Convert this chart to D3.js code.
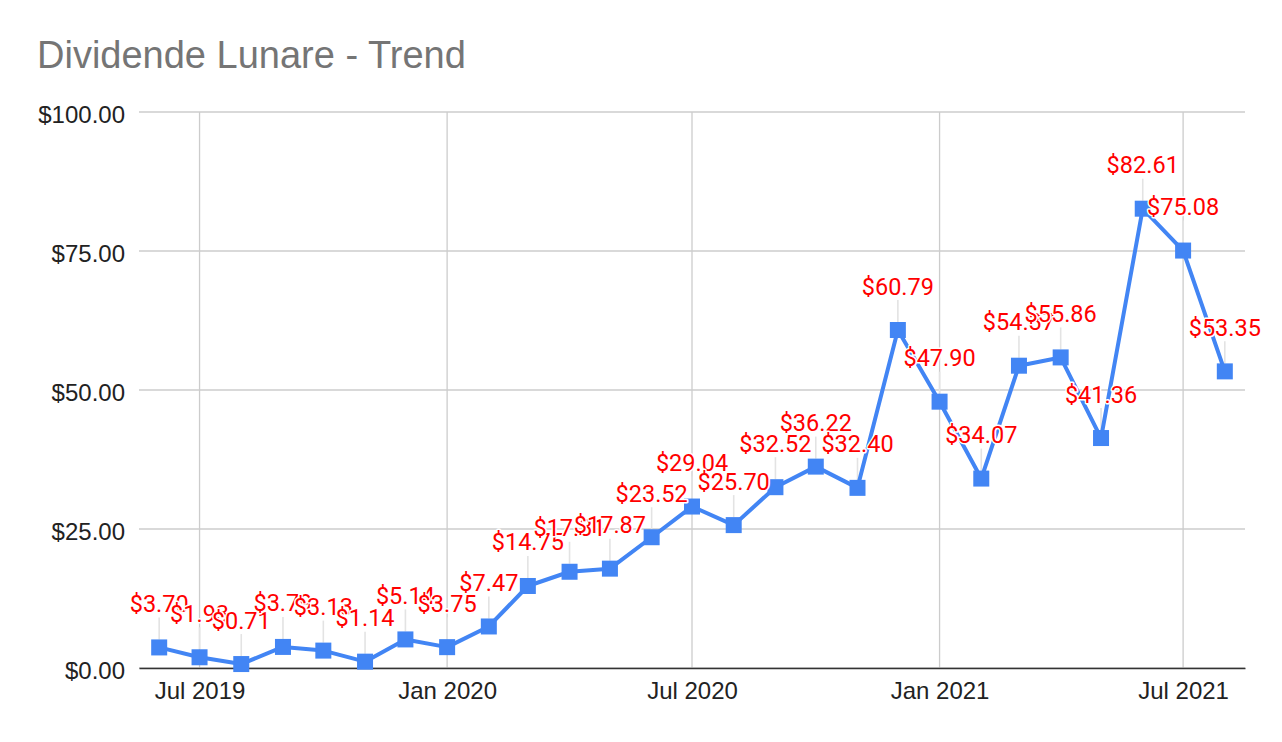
<!DOCTYPE html>
<html>
<head>
<meta charset="utf-8">
<script src="https://cdn.jsdelivr.net/npm/d3@7"></script>
<style>
  html, body { margin: 0; padding: 0; background: #fff; }
  svg { display: block; }
</style>
</head>
<body>
<svg id="chart" width="1282" height="742"></svg>
<script>
// monthly dividend data
var months = ["2019-06", "2019-07", "2019-08", "2019-09", "2019-10", "2019-11", "2019-12",
  "2020-01", "2020-02", "2020-03", "2020-04", "2020-05", "2020-06", "2020-07", "2020-08",
  "2020-09", "2020-10", "2020-11", "2020-12", "2021-01", "2021-02", "2021-03", "2021-04",
  "2021-05", "2021-06", "2021-07", "2021-08"];
var values = [3.70, 1.93, 0.71, 3.79, 3.13, 1.14, 5.14, 3.75, 7.47, 14.75, 17.31, 17.87,
  23.52, 29.04, 25.70, 32.52, 36.22, 32.40, 60.79, 47.90, 34.07, 54.37, 55.86, 41.36,
  82.61, 75.08, 53.35];
var xTicks = ["2019-07", "2020-01", "2020-07", "2021-01", "2021-07"];
var yTicks = [0, 25, 50, 75, 100];

var parseMonth = d3.timeParse("%Y-%m");
var data = months.map(function (m, i) {
  return { date: parseMonth(m), value: values[i] };
});

var svg = d3.select("#chart"),
  margin = { top: 112, right: 37, bottom: 74, left: 139 },
  width = +svg.attr("width") - margin.left - margin.right,
  height = +svg.attr("height") - margin.top - margin.bottom;

svg.append("text")
  .attr("x", 37)
  .attr("y", 68)
  .attr("font-family", "'Liberation Sans', Arial, sans-serif")
  .attr("font-size", 38)
  .attr("fill", "#757575")
  .text("Dividende Lunare - Trend");

var x = d3.scaleTime()
  .domain([d3.timeDay.offset(data[0].date, -15), d3.timeDay.offset(data[data.length - 1].date, 15)])
  .range([0, width]);
var y = d3.scaleLinear().domain([0, 100]).range([height, 0]);

var g = svg.append("g").attr("transform", "translate(" + margin.left + "," + margin.top + ")");

// grid
g.append("g")
  .selectAll("line.h")
  .data(yTicks)
  .join("line")
  .attr("x1", 0).attr("x2", width)
  .attr("y1", function (d) { return y(d); })
  .attr("y2", function (d) { return y(d); })
  .attr("stroke", "#cccccc").attr("stroke-width", 1.3);

g.append("g")
  .selectAll("line.v")
  .data(xTicks.map(parseMonth))
  .join("line")
  .attr("x1", function (d) { return x(d); })
  .attr("x2", function (d) { return x(d); })
  .attr("y1", 0).attr("y2", height)
  .attr("stroke", "#cccccc").attr("stroke-width", 1.3);

// axes
var xAxis = g.append("g")
  .attr("transform", "translate(0," + height + ")")
  .call(d3.axisBottom(x)
    .tickValues(xTicks.map(parseMonth))
    .tickFormat(d3.timeFormat("%b %Y"))
    .tickSize(0)
    .tickPadding(14));
xAxis.select(".domain").attr("stroke", "#333").attr("stroke-width", 1.6);

var yAxis = g.append("g")
  .call(d3.axisLeft(y)
    .tickValues(yTicks)
    .tickFormat(function (d) { return "$" + d3.format(".2f")(d); })
    .tickSize(0)
    .tickPadding(14));
yAxis.select(".domain").remove();
yAxis.selectAll("text").attr("dy", "0.42em");

g.selectAll(".tick text")
  .attr("font-family", "'Liberation Sans', Arial, sans-serif")
  .attr("font-size", 24)
  .attr("fill", "#222");

// leader lines
g.append("g")
  .selectAll("line")
  .data(data)
  .join("line")
  .attr("x1", function (d) { return x(d.date); })
  .attr("x2", function (d) { return x(d.date); })
  .attr("y1", function (d) { return y(d.value) - 30; })
  .attr("y2", function (d) { return y(d.value) - 8; })
  .attr("stroke", "#e3e3e3").attr("stroke-width", 1.6);

var line = d3.line()
  .x(function (d) { return x(d.date); })
  .y(function (d) { return y(d.value); });

g.append("path")
  .datum(data)
  .attr("fill", "none")
  .attr("stroke", "#4285f4")
  .attr("stroke-width", 4)
  .attr("stroke-linejoin", "round")
  .attr("d", line);

g.append("g")
  .selectAll("rect")
  .data(data)
  .join("rect")
  .attr("x", function (d) { return x(d.date) - 8; })
  .attr("y", function (d) { return y(d.value) - 8; })
  .attr("width", 16).attr("height", 16)
  .attr("fill", "#4285f4");

// value labels, drawn in order with a white halo
g.append("g")
  .selectAll("text")
  .data(data)
  .join("text")
  .attr("x", function (d) { return x(d.date); })
  .attr("y", function (d) { return y(d.value) - 35.5; })
  .attr("text-anchor", "middle")
  .attr("font-family", "Roboto, sans-serif")
  .attr("font-size", 23.5)
  .attr("fill", "#ff0000")
  .attr("stroke", "#fff")
  .attr("stroke-width", 3)
  .attr("stroke-linejoin", "round")
  .attr("paint-order", "stroke")
  .text(function (d) { return "$" + d3.format(".2f")(d.value); });
</script>
</body>
</html>
